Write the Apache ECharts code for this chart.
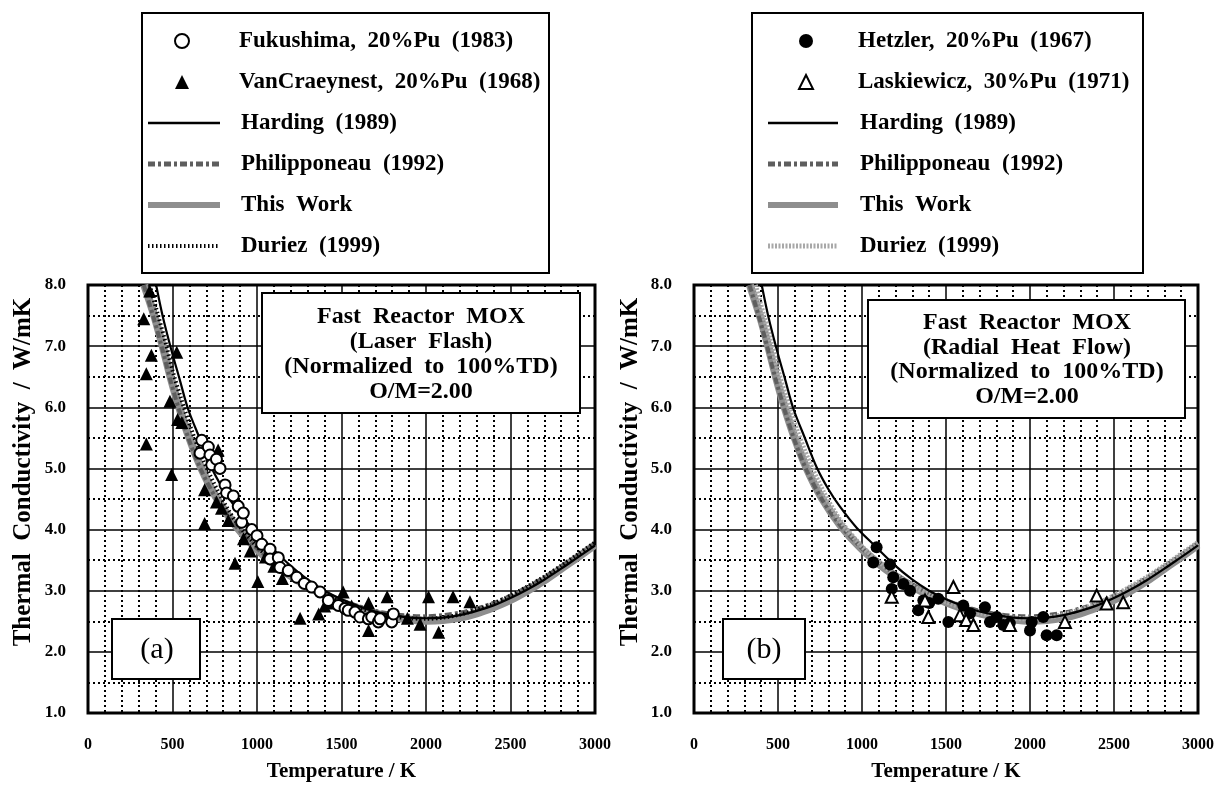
<!DOCTYPE html>
<html><head><meta charset="utf-8">
<script src="https://cdn.jsdelivr.net/npm/echarts@6/dist/echarts.min.js"></script>
<style>html,body{margin:0;padding:0;background:#fff}#c{width:1222px;height:787px}</style>
</head><body><div id="c"></div>
<script>
// ---- tick values ----
const xTicks = [0, 500, 1000, 1500, 2000, 2500, 3000];
const yTicks = [1, 2, 3, 4, 5, 6, 7, 8];

// ---- curves [T (K), k (W/mK)] ----
const harding = [[403,8.0],[442,7.49],[492,6.95],[542,6.46],[591,5.98],[661,5.49],[730,5.02],[800,4.66],[870,4.37],[968,4.03],[1067,3.76],[1186,3.44],[1300,3.18],[1400,3.0],[1500,2.86],[1600,2.75],[1700,2.66],[1800,2.6],[1900,2.56],[2000,2.55],[2100,2.56],[2200,2.6],[2300,2.67],[2400,2.76],[2500,2.88],[2600,3.02],[2700,3.18],[2800,3.36],[2900,3.55],[3000,3.74]];
const thisWork = [[333,8.0],[393,7.49],[442,7.0],[492,6.46],[542,5.98],[601,5.49],[671,5.0],[760,4.52],[869,4.08],[988,3.71],[1100,3.44],[1200,3.24],[1300,3.07],[1400,2.93],[1500,2.81],[1600,2.71],[1700,2.63],[1800,2.57],[1900,2.53],[2000,2.51],[2100,2.52],[2200,2.56],[2300,2.63],[2400,2.73],[2500,2.85],[2600,3.0],[2700,3.17],[2800,3.36],[2900,3.55],[3000,3.75]];
const philipponeau = [[330,8.0],[390,7.45],[440,6.95],[490,6.42],[540,5.95],[600,5.45],[670,4.97],[760,4.5],[870,4.07],[990,3.72],[1100,3.46],[1200,3.27],[1300,3.1],[1400,2.96],[1500,2.84],[1600,2.75],[1700,2.67],[1800,2.62],[1900,2.59],[2000,2.58],[2100,2.6],[2200,2.64],[2300,2.71],[2400,2.8],[2500,2.92],[2600,3.06],[2700,3.22],[2800,3.4],[2900,3.58],[3000,3.77]];
const duriez = [[365,8.0],[410,7.55],[455,7.1],[500,6.6],[550,6.15],[610,5.65],[680,5.15],[770,4.62],[870,4.15],[990,3.75],[1100,3.47],[1200,3.26],[1300,3.08],[1400,2.94],[1500,2.82],[1600,2.72],[1700,2.64],[1800,2.58],[1900,2.55],[2000,2.54],[2100,2.56],[2200,2.61],[2300,2.69],[2400,2.79],[2500,2.92],[2600,3.07],[2700,3.23],[2800,3.41],[2900,3.6],[3000,3.79]];

// ---- panel (a) data ----
const fukushima = [[663,5.25],[673,5.46],[712,5.35],[722,5.22],[732,5.06],[760,5.15],[781,5.0],[811,4.73],[820,4.6],[860,4.55],[889,4.38],[909,4.12],[919,4.27],[969,4.0],[1000,3.9],[1028,3.76],[1077,3.68],[1077,3.52],[1126,3.54],[1136,3.38],[1185,3.33],[1235,3.22],[1280,3.12],[1323,3.06],[1373,2.98],[1422,2.84],[1481,2.76],[1521,2.71],[1540,2.68],[1580,2.65],[1609,2.57],[1659,2.54],[1679,2.57],[1718,2.49],[1728,2.54],[1797,2.49],[1807,2.62]];
const vanCraeynest = [[330,7.45],[365,7.9],[375,6.85],[345,6.55],[345,5.4],[525,6.9],[485,6.1],[530,5.8],[495,4.9],[555,5.75],[690,4.65],[690,4.1],[770,5.3],[760,4.45],[790,4.35],[830,4.15],[870,3.45],[920,3.85],[960,3.65],[1005,3.15],[1050,3.55],[1100,3.4],[1150,3.2],[1255,2.55],[1365,2.62],[1400,2.75],[1450,2.8],[1510,2.98],[1560,2.75],[1660,2.8],[1660,2.35],[1770,2.9],[1780,2.6],[1890,2.55],[1965,2.45],[2015,2.9],[2075,2.32],[2160,2.9],[2260,2.82]];

// ---- panel (b) data ----
const hetzler = [[1087,3.71],[1067,3.46],[1167,3.43],[1186,3.22],[1177,3.03],[1246,3.11],[1286,3.0],[1335,2.68],[1365,2.84],[1400,2.8],[1454,2.87],[1514,2.49],[1603,2.76],[1643,2.63],[1732,2.73],[1762,2.49],[1802,2.57],[1841,2.44],[1880,2.47],[2010,2.49],[2000,2.35],[2079,2.57],[2099,2.27],[2159,2.27]];
const laskiewicz = [[1177,2.90],[1375,2.84],[1395,2.57],[1544,3.06],[1583,2.6],[1620,2.52],[1663,2.44],[1881,2.44],[2208,2.49],[2397,2.92],[2456,2.79],[2555,2.81]];

// ---- names ----
const N = {
  fuku: 'Fukushima, 20%Pu (1983)', van: 'VanCraeynest, 20%Pu (1968)',
  het: 'Hetzler, 20%Pu (1967)', las: 'Laskiewicz, 30%Pu (1971)',
  har: 'Harding (1989)', phi: 'Philipponeau (1992)', tw: 'This Work', dur: 'Duriez (1999)'
};

const SERIF = "'Liberation Serif', 'Times New Roman', serif";
const chart = echarts.init(document.getElementById('c'), null, {renderer: 'canvas'});

function xAxis(g) {
  return {
    gridIndex: g, type: 'value', min: xTicks[0], max: xTicks[xTicks.length - 1], interval: 500,
    name: 'Temperature / K', nameLocation: 'middle', nameGap: 48,
    nameTextStyle: {fontFamily: SERIF, fontWeight: 'bold', fontSize: 21, color: '#000'},
    axisLine: {show: false}, axisTick: {show: false},
    axisLabel: {margin: 24, fontFamily: SERIF, fontWeight: 'bold', fontSize: 16, color: '#000',
      formatter: v => String(v)},
    splitLine: {show: true, lineStyle: {color: '#000', width: 1.5}},
    minorTick: {show: false, splitNumber: 5},
    minorSplitLine: {show: true, lineStyle: {color: '#000', width: 2, type: [2, 3]}}
  };
}
function yAxis(g) {
  return {
    gridIndex: g, type: 'value', min: yTicks[0], max: yTicks[yTicks.length - 1], interval: 1,
    axisLine: {show: false}, axisTick: {show: false},
    axisLabel: {margin: 22, fontFamily: SERIF, fontWeight: 'bold', fontSize: 17, color: '#000',
      formatter: v => v.toFixed(1)},
    splitLine: {show: true, lineStyle: {color: '#000', width: 1.5}},
    minorTick: {show: false, splitNumber: 2},
    minorSplitLine: {show: true, lineStyle: {color: '#000', width: 2, type: [2, 3]}}
  };
}
function curves(g, durStyle) {
  return [
    {name: N.tw, type: 'line', xAxisIndex: g, yAxisIndex: g, data: thisWork, symbol: 'none', smooth: 0.3,
      itemStyle: {color: '#8e8e8e'}, lineStyle: {color: '#8e8e8e', width: 8}, z: 2},
    {name: N.phi, type: 'line', xAxisIndex: g, yAxisIndex: g, data: philipponeau, symbol: 'none', smooth: 0.3,
      itemStyle: {color: '#5e5e5e'}, lineStyle: {color: '#5e5e5e', width: 4, type: [7, 3, 3, 3]}, z: 3},
    {name: N.dur, type: 'line', xAxisIndex: g, yAxisIndex: g, data: duriez, symbol: 'none', smooth: 0.3,
      itemStyle: {color: durStyle.color}, lineStyle: durStyle, z: 3},
    {name: N.har, type: 'line', xAxisIndex: g, yAxisIndex: g, data: harding, symbol: 'none', smooth: 0.3,
      itemStyle: {color: '#000'}, lineStyle: {color: '#000', width: 2.2}, z: 4}
  ];
}
const durA = {color: '#000', width: 4, type: [1.5, 2.5]};
const durB = {color: '#a8a8a8', width: 5, type: [2, 1.5]};

const series = [].concat(
  curves(0, durA),
  [
    {name: N.van, type: 'scatter', xAxisIndex: 0, yAxisIndex: 0, data: vanCraeynest, symbol: 'triangle', symbolSize: 13,
      itemStyle: {color: '#000', opacity: 1}, z: 5},
    {name: N.fuku, type: 'scatter', xAxisIndex: 0, yAxisIndex: 0, data: fukushima, symbol: 'circle', symbolSize: 11,
      itemStyle: {color: '#fff', borderColor: '#000', borderWidth: 2, opacity: 1}, z: 6}
  ],
  curves(1, durB),
  [
    {name: N.het, type: 'scatter', xAxisIndex: 1, yAxisIndex: 1, data: hetzler, symbol: 'circle', symbolSize: 12,
      itemStyle: {color: '#000', opacity: 1}, z: 5},
    {name: N.las, type: 'scatter', xAxisIndex: 1, yAxisIndex: 1, data: laskiewicz, symbol: 'triangle', symbolSize: 12,
      itemStyle: {color: '#fff', borderColor: '#000', borderWidth: 2, opacity: 1}, z: 6}
  ]
);

const LEG_TEXT = {fontFamily: SERIF, fontWeight: 'bold', fontSize: 23, color: '#000', lineHeight: 26};
function pointLegend(left, pad, names) {
  return {
    left: left, top: 28, orient: 'vertical', itemWidth: 14, itemHeight: 14, itemGap: 15, padding: 0,
    selectedMode: false, formatter: n => n.replace(/ /g, '  '),
    textStyle: Object.assign({padding: [0, 0, 0, pad]}, LEG_TEXT),
    data: names
  };
}
function lineLegend(left, w, pad, durLine) {
  return {
    left: left, top: 110, orient: 'vertical', itemWidth: w, itemHeight: 14, itemGap: 15, padding: 0,
    selectedMode: false, formatter: n => n.replace(/ /g, '  '),
    textStyle: Object.assign({padding: [0, 0, 0, pad]}, LEG_TEXT),
    data: [
      {name: N.har, itemStyle: {opacity: 0}, lineStyle: {width: 2.5, color: '#000'}},
      {name: N.phi, itemStyle: {opacity: 0}, lineStyle: {width: 5, color: '#5e5e5e'}},
      {name: N.tw, itemStyle: {opacity: 0}, lineStyle: {width: 6, color: '#8e8e8e'}},
      {name: N.dur, itemStyle: {opacity: 0}, lineStyle: durLine}
    ]
  };
}

function textBox(x1, y1, x2, y2) {
  return {type: 'rect', z: 10, shape: {x: x1, y: y1, width: x2 - x1, height: y2 - y1},
    style: {fill: '#fff', stroke: '#000', lineWidth: 2}};
}
function label(x, y, t, font) {
  return {type: 'text', z: 11, x: x, y: y,
    style: {text: t, font: font, fill: '#000', textAlign: 'center', textVerticalAlign: 'middle'}};
}
const bold24 = "bold 24px 'Liberation Serif', serif";
const yName = "bold 25px 'Liberation Serif', serif";

chart.setOption({
  animation: false,
  backgroundColor: '#fff',
  grid: [
    {left: 88, top: 285, width: 507, height: 432, show: true, borderColor: '#000', borderWidth: 3, backgroundColor: 'transparent'},
    {left: 694, top: 285, width: 504, height: 432, show: true, borderColor: '#000', borderWidth: 3, backgroundColor: 'transparent'}
  ],
  xAxis: [xAxis(0), xAxis(1)],
  yAxis: [yAxis(0), yAxis(1)],
  legend: [
    pointLegend(174, 45, [N.fuku, N.van]),
    lineLegend(145, 72, 16, {width: 4, color: '#000', type: [1.5, 2.5]}),
    pointLegend(798, 40, [N.het, N.las]),
    lineLegend(765, 70, 17, {width: 5, color: '#a8a8a8', type: [2, 1.5]})
  ],
  graphic: [
    {type: 'rect', z: 0, shape: {x: 142, y: 13, width: 407, height: 260}, style: {fill: 'none', stroke: '#000', lineWidth: 2}},
    {type: 'rect', z: 0, shape: {x: 752, y: 13, width: 391, height: 260}, style: {fill: 'none', stroke: '#000', lineWidth: 2}},
    textBox(262, 293, 580, 413),
    label(421, 317, 'Fast  Reactor  MOX', bold24),
    label(421, 342, '(Laser  Flash)', bold24),
    label(421, 367, '(Normalized  to  100%TD)', bold24),
    label(421, 392, 'O/M=2.00', bold24),
    textBox(868, 300, 1185, 418),
    label(1027, 323, 'Fast  Reactor  MOX', bold24),
    label(1027, 348, '(Radial  Heat  Flow)', bold24),
    label(1027, 372, '(Normalized  to  100%TD)', bold24),
    label(1027, 397, 'O/M=2.00', bold24),
    textBox(112, 619, 200, 679),
    label(157, 650, '(a)', "30px 'Liberation Serif', serif"),
    textBox(723, 619, 805, 679),
    label(764, 650, '(b)', "30px 'Liberation Serif', serif"),
    {type: 'text', z: 11, x: 24, y: 472, rotation: Math.PI / 2,
      style: {text: 'Thermal  Conductivity  /  W/mK', font: yName, fill: '#000', textAlign: 'center', textVerticalAlign: 'middle'}},
    {type: 'text', z: 11, x: 631, y: 472, rotation: Math.PI / 2,
      style: {text: 'Thermal  Conductivity  /  W/mK', font: yName, fill: '#000', textAlign: 'center', textVerticalAlign: 'middle'}}
  ],
  series: series
});
</script></body></html>
